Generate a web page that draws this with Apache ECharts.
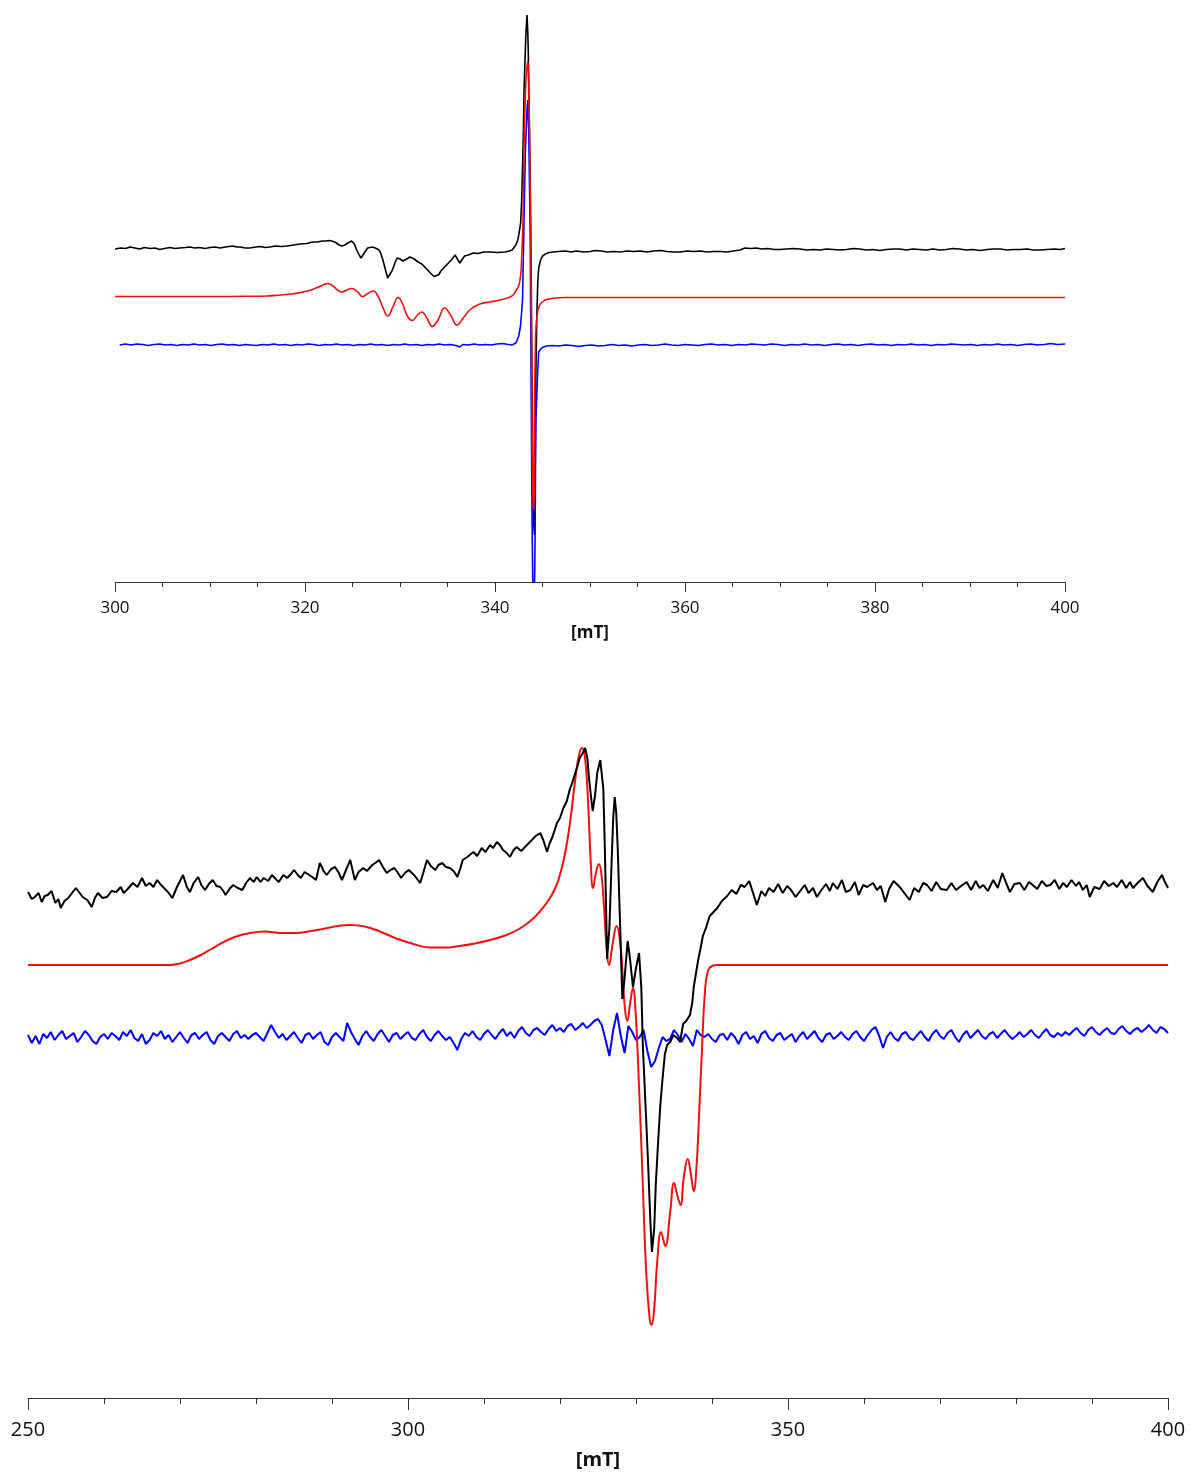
<!DOCTYPE html>
<html>
<head>
<meta charset="utf-8">
<script src="https://cdn.jsdelivr.net/npm/echarts/dist/echarts.min.js"></script>
<style>
html,body{margin:0;padding:0;background:#fff;}
#chart{width:1191px;height:1475px;}
</style>
</head>
<body>
<div id="chart"></div>
<script>
// ---------- TOP PANEL (field in mT, intensity in arbitrary units, stacked traces) ----------
const topTicks = [300, 320, 340, 360, 380, 400];
const topBlack = [
[300.0,66.6],[300.6,66.8],[301.1,66.7],[301.6,67.0],[302.1,66.8],[302.6,66.6],[303.1,66.9],[303.7,66.7],[304.2,66.8],[304.7,66.5],[305.2,66.7],[305.8,66.9],[306.3,66.7],[306.8,66.8],[307.4,66.9],[307.9,67.0],[308.4,66.8],[308.9,66.9],[309.5,66.7],[310.0,66.9],[310.5,67.0],[311.1,66.8],[311.6,67.0],[312.4,67.2],[312.8,67.0],[313.2,67.0],[313.7,66.8],[314.2,66.8],[314.8,67.0],[315.3,67.1],[315.8,66.9],[316.3,67.0],[316.9,67.2],[317.5,67.1],[318.1,67.2],[318.8,67.4],[319.5,67.6],[320.2,67.7],[320.8,68.0],[321.3,68.0],[321.8,68.2],[322.2,68.2],[322.6,68.3],[323.0,68.1],[323.3,67.8],[323.6,67.4],[323.9,67.2],[324.2,67.4],[324.5,67.8],[324.9,68.2],[325.2,67.6],[325.4,66.6],[325.7,65.4],[325.9,64.8],[326.1,65.2],[326.3,66.0],[326.6,66.8],[326.8,67.2],[327.1,67.0],[327.4,66.8],[327.8,66.4],[328.0,65.6],[328.2,64.4],[328.5,62.2],[328.7,60.8],[328.9,61.2],[329.2,62.4],[329.5,64.0],[329.7,64.8],[330.0,64.6],[330.3,64.2],[330.7,64.6],[331.05,65.0],[331.5,64.6],[331.9,64.0],[332.3,63.6],[332.6,63.0],[333.0,62.2],[333.3,61.6],[333.6,61.1],[333.8,61.0],[334.1,61.5],[334.3,62.2],[334.6,62.8],[334.9,63.4],[335.2,64.0],[335.5,64.6],[335.8,65.4],[336.0,65.0],[336.1,64.4],[336.3,63.8],[336.5,64.4],[336.8,65.2],[337.2,65.4],[337.7,65.8],[338.2,65.7],[338.8,66.0],[339.5,66.0],[340.2,65.9],[341.05,66.0],[341.5,66.2],[341.8,66.4],[342.0,66.8],[342.2,67.4],[342.4,68.4],[342.5,69.4],[342.7,71.8],[342.8,76.0],[342.9,83.0],[343.0,91.0],[343.05,97.8],[343.15,104.0],[343.25,109.5],[343.37,113.4],[343.45,110.0],[343.5,106.4],[343.6,94.2],[343.7,80.4],[343.8,64.4],[343.9,40.0],[343.95,27.2],[344.05,12.4],[344.16,9.4],[344.22,20.0],[344.3,42.0],[344.4,53.0],[344.5,59.8],[344.6,62.8],[344.8,64.4],[345.0,65.2],[345.3,65.6],[345.7,65.9],[346.1,66.0],[346.7,66.1],[347.4,66.2],[348.0,66.0],[348.6,66.2],[349.3,66.0],[350.0,66.1],[350.6,66.3],[351.2,66.2],[351.8,66.0],[352.5,66.1],[353.2,66.0],[353.9,66.2],[354.6,66.1],[355.3,66.2],[356.0,66.0],[356.7,66.2],[357.4,66.3],[358.1,66.1],[358.8,66.0],[359.5,66.0],[360.2,66.2],[360.9,66.1],[361.6,66.2],[362.3,66.0],[363.0,66.1],[363.7,66.1],[364.4,66.0],[365.1,66.2],[365.8,66.4],[366.3,66.8],[366.9,66.7],[367.5,66.8],[368.1,66.6],[368.7,66.7],[369.4,66.5],[370.0,66.5],[370.7,66.6],[371.4,66.7],[372.1,66.6],[372.8,66.4],[373.5,66.5],[374.2,66.4],[374.9,66.6],[375.6,66.5],[376.3,66.4],[377.0,66.5],[377.7,66.7],[378.4,66.6],[379.1,66.4],[379.8,66.5],[380.5,66.3],[381.2,66.5],[381.9,66.6],[382.6,66.6],[383.3,66.4],[384.0,66.6],[384.7,66.5],[385.4,66.4],[386.1,66.6],[386.8,66.4],[387.5,66.5],[388.2,66.7],[388.9,66.6],[389.6,66.4],[390.3,66.5],[391.05,66.3],[391.8,66.5],[392.5,66.6],[393.2,66.6],[393.9,66.4],[394.6,66.5],[395.3,66.5],[396.0,66.6],[396.7,66.4],[397.4,66.4],[398.1,66.5],[398.9,66.6],[399.5,66.5],[400.0,66.7]
];
const topRed = [
[300,57.1],[305,57.1],[310,57.1],[314,57.15],[316,57.2],[317.4,57.4],[318.5,57.6],[319.5,57.9],[320.3,58.2],[321.05,58.7],[321.8,59.3],[322.4,59.7],[323.0,59.1],[323.5,58.3],[323.9,58.0],[324.4,58.4],[324.9,58.7],[325.5,58.1],[326.05,57.1],[326.6,57.7],[327.2,58.2],[327.7,57.1],[328.2,54.9],[328.7,53.2],[329.25,55.0],[329.8,56.9],[330.3,55.5],[330.8,53.1],[331.3,52.3],[331.8,53.3],[332.3,54.0],[332.85,52.7],[333.4,51.1],[334.0,52.4],[334.7,54.8],[335.35,53.3],[336.0,51.4],[336.7,52.9],[337.4,54.5],[338.4,55.6],[339.5,56.0],[340.5,56.4],[341.6,57.0],[342.0,57.6],[342.3,58.6],[342.5,59.2],[342.7,61.4],[342.8,64.4],[342.95,72.4],[343.05,86.6],[343.2,97.4],[343.3,101.6],[343.45,104.2],[343.55,98.4],[343.7,79.2],[343.8,58.4],[343.9,32.4],[344.0,16.4],[344.1,14.4],[344.16,32.4],[344.26,48.4],[344.4,52.8],[344.7,55.4],[345.3,56.4],[346.0,56.7],[347.4,56.9],[360,56.9],[380,56.9],[400,56.9]
];
const topBlue = [
[300.5,47.4],[301.1,47.6],[301.7,47.4],[302.3,47.6],[302.9,47.5],[303.5,47.3],[304.1,47.5],[304.7,47.6],[305.3,47.4],[305.9,47.5],[306.5,47.3],[307.1,47.5],[307.7,47.4],[308.3,47.6],[308.9,47.4],[309.5,47.5],[310.1,47.3],[310.7,47.5],[311.3,47.6],[311.9,47.4],[312.5,47.5],[313.1,47.3],[313.7,47.5],[314.3,47.4],[314.9,47.3],[315.5,47.5],[316.1,47.4],[316.7,47.6],[317.3,47.4],[317.9,47.5],[318.5,47.3],[319.1,47.5],[319.7,47.4],[320.3,47.6],[320.9,47.5],[321.5,47.3],[322.1,47.5],[322.7,47.4],[323.3,47.6],[323.9,47.4],[324.5,47.5],[325.1,47.3],[325.7,47.5],[326.3,47.4],[326.9,47.6],[327.5,47.4],[328.1,47.5],[328.7,47.3],[329.3,47.5],[329.9,47.4],[330.5,47.6],[331.1,47.4],[331.7,47.5],[332.3,47.3],[332.9,47.5],[333.5,47.4],[334.1,47.6],[334.7,47.4],[335.3,47.5],[335.9,47.3],[336.3,47.0],[336.6,47.5],[337.2,47.4],[337.8,47.6],[338.4,47.4],[339.0,47.5],[339.6,47.4],[340.2,47.6],[340.8,47.7],[341.4,47.5],[341.8,47.4],[342.2,47.8],[342.5,49.2],[342.7,51.4],[342.9,56.4],[343.05,71.8],[343.2,86.4],[343.37,94.4],[343.45,96.4],[343.55,90.4],[343.7,70.4],[343.8,40.4],[343.9,12.4],[344.0,-3.6],[344.1,-7.6],[344.2,4.4],[344.3,32.4],[344.5,42.4],[344.6,46.0],[344.9,46.8],[345.4,47.2],[346.0,47.3],[346.7,47.2],[347.4,47.4],[348.1,47.3],[348.8,47.1],[349.5,47.3],[350.2,47.4],[350.9,47.2],[351.6,47.3],[352.3,47.5],[353.0,47.3],[353.7,47.4],[354.4,47.2],[355.1,47.4],[355.8,47.5],[356.5,47.3],[357.2,47.4],[357.9,47.6],[358.6,47.4],[359.3,47.3],[360.0,47.5],[360.7,47.4],[361.4,47.3],[362.1,47.5],[362.8,47.6],[363.5,47.4],[364.2,47.5],[364.9,47.3],[365.6,47.5],[366.3,47.4],[367.0,47.6],[367.7,47.5],[368.4,47.4],[369.1,47.6],[369.8,47.5],[370.5,47.3],[371.2,47.5],[371.9,47.4],[372.6,47.6],[373.3,47.4],[374.0,47.5],[374.7,47.3],[375.4,47.5],[376.1,47.6],[376.8,47.4],[377.5,47.5],[378.2,47.3],[378.9,47.5],[379.6,47.6],[380.3,47.4],[381.0,47.5],[381.7,47.3],[382.4,47.5],[383.1,47.4],[383.8,47.6],[384.5,47.4],[385.2,47.5],[385.9,47.3],[386.6,47.5],[387.3,47.4],[388.0,47.6],[388.7,47.5],[389.4,47.4],[390.1,47.5],[390.8,47.3],[391.5,47.5],[392.2,47.4],[392.9,47.6],[393.6,47.4],[394.3,47.5],[395.0,47.3],[395.7,47.5],[396.4,47.6],[397.1,47.4],[397.8,47.5],[398.5,47.7],[399.2,47.5],[400.0,47.6]
];

// ---------- BOTTOM PANEL ----------
const botTicks = [250, 300, 350, 400];
const botBlack = [
[250.0,101.2],[250.5,99.8],[250.9,100.2],[251.4,101.0],[251.8,99.2],[252.2,100.4],[252.6,100.6],[253.1,101.4],[253.6,99.0],[254.0,99.8],[254.3,98.0],[254.8,99.4],[255.3,100.0],[255.8,101.0],[256.3,102.0],[256.8,101.0],[257.2,100.2],[257.8,99.6],[258.4,98.2],[258.8,100.0],[259.2,101.0],[259.8,100.0],[260.4,100.2],[261.0,101.4],[261.6,101.2],[262.2,102.2],[262.6,101.0],[263.0,101.6],[263.8,103.0],[264.4,102.2],[265.0,104.0],[265.5,102.4],[266.0,103.0],[266.5,102.2],[267.0,103.6],[267.4,102.8],[267.9,102.0],[268.4,101.2],[269.0,100.0],[269.6,102.2],[270.0,103.4],[270.4,104.6],[270.9,102.2],[271.3,101.2],[271.8,103.0],[272.4,104.2],[272.8,102.6],[273.3,101.6],[273.8,102.8],[274.3,103.6],[274.8,102.4],[275.3,102.2],[275.7,101.4],[276.0,100.6],[276.5,101.8],[277.0,102.6],[277.6,102.0],[278.2,101.6],[278.7,103.0],[279.2,104.0],[279.7,103.2],[280.1,104.2],[280.6,103.2],[281.0,104.0],[281.6,103.4],[282.1,104.6],[282.6,103.8],[283.0,103.2],[283.6,104.6],[284.1,104.0],[284.6,104.8],[285.0,105.6],[285.5,104.6],[285.9,104.0],[286.4,105.2],[287.0,104.6],[287.4,104.2],[287.9,103.6],[288.4,107.0],[288.9,105.4],[289.3,104.6],[289.9,105.8],[290.4,106.2],[290.9,105.0],[291.3,103.6],[291.9,105.8],[292.4,107.6],[292.7,105.6],[293.0,103.6],[293.5,105.2],[294.1,106.0],[294.6,105.4],[295.3,106.6],[295.7,107.0],[296.2,107.6],[296.7,106.2],[297.2,105.0],[297.7,105.6],[298.2,106.0],[298.6,105.2],[299.1,104.0],[299.6,105.0],[300.1,105.6],[300.8,104.6],[301.6,103.0],[302.0,105.0],[302.5,107.6],[303.0,106.4],[303.6,105.6],[304.0,106.6],[304.5,107.0],[305.0,106.2],[305.5,106.0],[306.0,105.4],[306.5,104.2],[306.9,106.0],[307.2,107.6],[307.8,108.2],[308.6,109.2],[309.1,108.4],[309.7,110.0],[310.2,109.2],[310.8,110.6],[311.2,110.0],[311.7,111.2],[312.1,110.6],[312.5,109.6],[313.0,109.0],[313.4,108.2],[313.9,109.6],[314.3,110.2],[314.9,109.4],[315.4,110.2],[315.9,111.0],[316.3,111.6],[316.8,112.4],[317.4,113.0],[317.8,111.6],[318.3,109.2],[318.6,110.8],[319.0,112.2],[319.6,115.0],[320.0,116.0],[320.4,117.8],[320.9,119.4],[321.3,121.8],[321.6,123.0],[322.0,125.0],[322.3,126.4],[322.6,128.0],[323.0,129.0],[323.3,130.0],[323.6,128.0],[323.8,124.2],[324.1,120.0],[324.3,117.4],[324.6,120.4],[324.9,125.0],[325.3,127.6],[325.7,121.8],[325.9,110.0],[326.2,87.8],[326.5,94.0],[326.8,107.6],[327.0,116.0],[327.2,120.2],[327.4,117.0],[327.6,109.8],[327.9,95.0],[328.2,79.8],[328.5,84.0],[328.9,91.4],[329.2,88.0],[329.6,82.2],[330.0,86.0],[330.4,89.0],[330.7,82.0],[330.9,70.4],[331.3,57.0],[331.6,46.6],[331.9,35.0],[332.1,29.2],[332.4,34.0],[332.6,42.6],[332.9,51.0],[333.2,58.6],[333.5,64.0],[333.8,68.8],[334.1,70.6],[334.5,71.2],[334.9,72.6],[335.4,72.0],[335.8,71.2],[336.2,74.8],[336.6,75.4],[337.1,76.6],[337.4,79.0],[337.6,82.2],[337.9,85.0],[338.2,87.8],[338.5,90.0],[338.8,92.4],[339.2,94.0],[339.7,96.4],[340.2,97.2],[340.7,98.0],[341.3,99.4],[342.0,100.4],
[342.6,101.6],[343.2,100.8],[343.8,102.6],[344.3,102.2],[344.9,103.4],[345.4,101.0],[345.9,98.6],[346.5,101.4],[347.0,100.4],[347.5,102.0],[348.1,101.2],[348.7,102.8],[349.3,101.0],[349.9,102.4],[350.4,101.6],[351.0,100.2],[351.6,101.4],[352.2,102.6],[352.7,101.0],[353.3,102.0],[353.8,100.2],[354.4,101.6],[355.0,102.8],[355.5,101.4],[355.9,103.0],[356.5,101.8],[357.1,103.6],[357.6,101.2],[358.2,101.6],[358.8,103.2],[359.3,100.6],[359.9,102.6],[360.4,102.2],[361.2,103.0],[361.7,101.6],[362.2,102.4],[362.8,99.2],[363.3,101.8],[363.9,103.4],[364.7,102.2],[365.3,101.0],[366.0,99.6],[366.6,102.0],[367.2,101.2],[367.8,103.0],[368.3,102.6],[368.9,101.4],[369.5,103.2],[370.1,101.8],[370.9,101.6],[371.5,103.0],[372.1,101.6],[372.6,102.2],[373.5,103.2],[374.1,101.6],[374.7,103.4],[375.2,102.0],[375.7,102.6],[376.3,101.4],[377.0,103.6],[377.6,102.0],[378.2,105.0],[378.7,103.0],[379.2,101.2],[379.8,102.8],[380.5,103.0],[381.1,101.6],[381.7,103.2],[382.2,102.6],[382.8,101.8],[383.4,103.4],[384.0,102.4],[384.5,102.6],[385.1,103.6],[385.7,101.8],[386.2,103.0],[386.7,102.2],[387.3,103.6],[387.9,102.4],[388.3,103.2],[388.8,101.6],[389.3,102.6],[389.7,100.2],[390.3,102.2],[391.0,101.8],[391.6,103.4],[392.2,102.4],[392.8,103.0],[393.3,102.2],[393.9,103.6],[394.5,102.0],[395.0,103.2],[395.4,102.0],[396.0,103.0],[396.7,104.0],[397.3,102.4],[398.0,101.2],[398.6,103.2],[399.2,104.6],[399.6,103.2],[400.0,102.0]
];
const botRed = [
[250,86.6],[260,86.6],[268.7,86.6],[270.0,86.9],[271.3,87.6],[272.6,88.5],[273.9,89.6],[275.5,91.0],[277.2,92.2],[279.2,93.0],[281.2,93.3],[283.2,93.0],[285.2,93.0],[287.2,93.4],[289.1,93.9],[290.8,94.4],[292.4,94.6],[294.3,94.3],[296.3,93.3],[298.3,92.0],[300.3,91.0],[302.9,90.1],[304.8,90.1],[306.8,90.4],[308.8,90.9],[310.8,91.6],[312.8,92.5],[314.5,93.7],[316.1,95.4],[317.4,97.4],[318.6,99.8],[319.5,102.4],[320.2,105.8],[320.8,110.0],[321.4,116.0],[322.0,123.6],[322.5,128.6],[322.9,130.0],[323.3,128.0],[323.7,119.0],[324.05,107.0],[324.35,102.0],[324.75,105.2],[325.1,106.8],[325.45,104.8],[325.8,98.0],[326.1,90.6],[326.45,86.6],[326.9,90.6],[327.45,94.4],[327.9,91.4],[328.25,84.4],[328.55,77.8],[328.85,75.4],[329.25,79.2],[329.6,82.0],[329.95,77.2],[330.3,66.0],[330.8,46.6],[331.35,25.0],[331.8,15.8],[332.05,14.6],[332.4,18.0],[332.8,27.4],[333.3,33.2],[333.85,30.4],[334.5,37.2],[335.0,43.0],[335.45,40.4],[335.85,38.6],[336.3,44.2],[336.8,47.8],[337.2,45.0],[337.6,41.4],[337.95,46.0],[338.3,56.6],[338.7,70.4],[339.05,80.8],[339.45,85.4],[340.0,86.4],[340.7,86.6],[350,86.6],[400,86.6]
];
// blue residual, sampled every 0.5 mT from 250 mT
const botBlueStart = 250, botBlueStep = 0.5;
const botBlueY = [
72.6,71.0,72.4,70.8,72.8,72.0,73.2,71.6,72.6,73.4,
71.8,72.4,73.0,71.2,72.2,73.4,72.6,71.4,70.8,72.2,
72.8,71.8,73.0,72.4,71.6,73.2,72.4,73.6,72.0,71.4,
72.8,70.8,71.6,73.0,72.4,73.4,71.8,72.6,71.2,72.2,
73.2,72.0,71.0,72.6,73.0,71.8,72.6,73.2,71.6,70.8,
72.4,73.0,72.2,71.4,72.8,73.4,72.0,72.6,71.8,72.6,
73.0,72.2,71.4,73.0,74.6,73.2,72.0,72.8,71.6,72.4,
73.2,72.0,71.0,72.6,73.0,71.8,72.6,73.2,71.2,70.6,
72.2,73.0,72.2,71.4,75.0,73.2,71.8,70.6,72.4,73.4,
72.2,71.4,72.8,73.6,72.4,71.2,72.6,73.0,71.8,72.6,
73.2,72.0,71.6,72.8,73.6,72.2,71.4,72.6,73.4,72.4,
71.6,72.2,71.0,69.6,71.8,73.0,72.4,73.4,72.2,71.6,
72.8,73.6,72.6,71.8,73.0,73.8,72.4,73.2,72.0,73.4,
74.2,73.0,72.4,73.6,74.0,73.2,72.6,73.8,74.6,73.4,
74.0,73.2,74.4,74.8,73.6,74.2,75.0,74.0,74.6,75.4,
75.8,74.6,71.6,68.4,73.6,77.0,72.4,69.0,74.4,73.2,
71.6,72.2,73.6,69.4,66.2,67.4,70.0,72.2,71.4,71.8,
73.6,72.6,71.2,72.8,71.8,70.4,73.6,72.6,72.2,72.8,
71.8,71.2,72.6,72.8,71.6,73.0,72.2,70.8,72.6,73.2,
71.8,72.4,71.0,72.8,73.4,72.0,71.4,72.6,73.0,71.6,
72.2,72.8,71.2,72.4,73.2,71.8,72.6,73.4,72.0,71.2,
72.6,73.0,71.8,72.4,73.2,72.2,71.6,72.8,73.4,72.2,
71.4,72.6,73.6,74.2,72.4,70.0,72.2,73.2,72.0,71.4,
72.8,73.2,72.0,71.6,72.6,73.4,72.2,71.4,72.8,73.6,
72.4,71.8,73.0,73.6,72.2,71.2,72.6,73.4,72.0,72.8,
73.6,72.4,71.8,72.8,73.2,72.0,72.8,73.6,72.6,71.8,
72.4,73.2,72.2,72.8,73.6,72.6,72.0,73.0,73.8,72.6,
72.2,73.0,72.4,73.2,72.6,73.4,74.0,73.0,72.4,73.6,
74.2,73.2,72.6,73.4,74.0,73.0,72.8,73.8,74.4,73.4,
72.8,73.6,74.0,73.2,73.8,74.6,73.6,73.0,74.2,73.8,
73.0
];
const botBlue = botBlueY.map((v, i) => [botBlueStart + i * botBlueStep, v]);

const FONT = '"Open Sans", "Noto Sans", sans-serif';
const axisCol = '#333';

function xAxisDef(grid, min, max, interval, minorSplit, tickLen, minorLen, fs, margin, nameFs, nameGap) {
  return {
    gridIndex: grid, type: 'value', min: min, max: max, interval: interval,
    axisLine: { show: true, lineStyle: { color: axisCol, width: 1 } },
    axisTick: { show: true, length: tickLen, lineStyle: { color: axisCol, width: 1 } },
    minorTick: { show: true, splitNumber: minorSplit, length: minorLen, lineStyle: { color: axisCol, width: 1 } },
    splitLine: { show: false }, minorSplitLine: { show: false },
    axisLabel: { fontSize: fs, color: '#111', margin: margin, fontFamily: FONT },
    name: '[mT]', nameLocation: 'middle', nameGap: nameGap,
    nameTextStyle: { fontSize: nameFs, fontWeight: 'bold', color: '#111', fontFamily: FONT }
  };
}

function line(data, color, xi, w, smooth) {
  return {
    type: 'line', data: data, xAxisIndex: xi, yAxisIndex: xi,
    showSymbol: false, symbol: 'none', smooth: smooth || false,
    clip: true, lineStyle: { color: color, width: w }, itemStyle: { color: color },
    animation: false, silent: true
  };
}

const chart = echarts.init(document.getElementById('chart'), null, { renderer: 'canvas' });
chart.setOption({
  backgroundColor: '#ffffff',
  animation: false,
  grid: [
    { left: 115, width: 950, top: 12, height: 570 },
    { left: 28, width: 1140, top: 728, height: 670 }
  ],
  xAxis: [
    xAxisDef(0, topTicks[0], topTicks[topTicks.length - 1], topTicks[1] - topTicks[0], 4, 10, 5, 17, 18, 17, 43),
    xAxisDef(1, botTicks[0], botTicks[botTicks.length - 1], botTicks[1] - botTicks[0], 5, 12, 6, 20, 22, 20, 52)
  ],
  yAxis: [
    { gridIndex: 0, type: 'value', min: 0, max: 114, show: false },
    { gridIndex: 1, type: 'value', min: 0, max: 134, show: false }
  ],
  series: [
    line(topBlack, '#000000', 0, 1.6),
    line(topBlue, '#0000ff', 0, 1.6),
    line(topRed, '#ee1111', 0, 1.6, 0.45),
    line(botBlue, '#0000ff', 1, 2),
    line(botRed, '#ee1111', 1, 2, 0.45),
    line(botBlack, '#000000', 1, 2)
  ]
});
</script>
</body>
</html>
